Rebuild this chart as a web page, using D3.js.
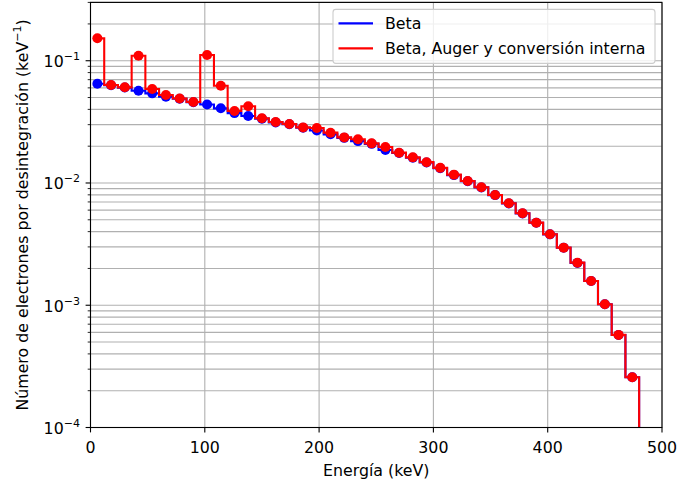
<!DOCTYPE html>
<html>
<head>
<meta charset="utf-8">
<script src="https://cdn.jsdelivr.net/npm/d3@7"></script>
<style>
  html, body { margin: 0; padding: 0; background: #fff; }
  svg { display: block; font-family: "DejaVu Sans", sans-serif; }
</style>
</head>
<body>
<svg id="chart" width="677" height="484"></svg>
<script>
// ---- data ----
const energies = [6, 18, 30, 42, 54, 66, 78, 90, 102, 114, 126, 138, 150, 162, 174, 186, 198, 210, 222, 234,
                  246, 258, 270, 282, 294, 306, 318, 330, 342, 354, 366, 378, 390, 402, 414, 426, 438, 450, 462, 474];
const betaValues = [0.0648, 0.0630, 0.0603, 0.0568, 0.0541, 0.0508, 0.0489, 0.0457, 0.0438, 0.0408,
                    0.0373, 0.0353, 0.0336, 0.0313, 0.0302, 0.0283, 0.0269, 0.0250, 0.0234, 0.0220,
                    0.0209, 0.0186, 0.0176, 0.0161, 0.0147, 0.0132, 0.0116, 0.01035, 0.00920, 0.00796,
                    0.00681, 0.00564, 0.00473, 0.00380, 0.00295, 0.00222, 0.00158, 0.00102, 0.000571, 0.000258];
const totalValues = [0.1525, 0.0633, 0.0606, 0.1099, 0.0587, 0.0524, 0.0491, 0.0460, 0.1113, 0.0625,
                     0.0388, 0.0424, 0.0338, 0.0315, 0.0304, 0.0285, 0.0282, 0.0258, 0.0236, 0.0228,
                     0.0211, 0.0197, 0.0177, 0.0162, 0.0148, 0.0133, 0.0117, 0.01038, 0.00922, 0.00798,
                     0.00682, 0.00565, 0.00474, 0.00381, 0.00296, 0.00223, 0.00158, 0.00102, 0.000572, 0.000258];
const xTickValues = [0, 100, 200, 300, 400, 500];
const yTickExponents = [-4, -3, -2, -1];
const seriesNames = ["Beta", "Beta, Auger y conversión interna"];
const seriesColors = ["#0000ff", "#ff0000"];
const xLabel = "Energía (keV)";
const yLabel = "Número de electrones por desintegración (keV";

// ---- layout ----
const svg = d3.select("#chart");
const L = 90.5, R = 662, T = 2.4, B = 427.5;
const x = d3.scaleLinear().domain([0, 500]).range([L, R]);
const y = d3.scaleLog().domain([1e-4, 0.3]).range([B, T]);
const fs = 15.8;
const gridColor = "#b0b0b0";

svg.append("defs").append("clipPath").attr("id", "plotclip")
  .append("rect").attr("x", L).attr("y", T).attr("width", R - L).attr("height", B - T);

// grid
const gGrid = svg.append("g");
const yGridTicks = y.ticks().filter(v => v >= 1e-4 && v <= 0.3 * 1.0001);
gGrid.selectAll("line.h").data(yGridTicks).enter().append("line")
  .attr("x1", L).attr("x2", R)
  .attr("y1", d => y(d)).attr("y2", d => y(d))
  .attr("stroke", gridColor).attr("stroke-width", 1.1);
gGrid.selectAll("line.v").data(xTickValues).enter().append("line")
  .attr("x1", d => x(d)).attr("x2", d => x(d))
  .attr("y1", T).attr("y2", B)
  .attr("stroke", gridColor).attr("stroke-width", 1.1);

// series
const datasets = [betaValues, totalValues].map(vals => energies.map((e, i) => [e, vals[i]]));
const line = d3.line().x(d => x(d[0])).y(d => y(d[1])).curve(d3.curveStep);
const gData = svg.append("g").attr("clip-path", "url(#plotclip)");
datasets.forEach((ds, si) => {
  const n = ds.length;
  const edge = ds[n - 1][0] + (ds[n - 1][0] - ds[n - 2][0]) / 2;
  const pts = ds.concat([[edge, ds[n - 1][1]], [edge, 1e-6]]);
  gData.append("path").attr("d", line(pts))
    .attr("fill", "none").attr("stroke", seriesColors[si]).attr("stroke-width", 2.1)
    .attr("stroke-linejoin", "miter");
  gData.selectAll("circle.s" + si).data(ds).enter().append("circle")
    .attr("cx", d => x(d[0])).attr("cy", d => y(d[1])).attr("r", 5)
    .attr("fill", seriesColors[si]);
});

// spines
svg.append("rect").attr("x", L).attr("y", T).attr("width", R - L).attr("height", B - T)
  .attr("fill", "none").attr("stroke", "#000").attr("stroke-width", 1.1);

// x ticks
const gx = svg.append("g");
xTickValues.forEach(v => {
  gx.append("line").attr("x1", x(v)).attr("x2", x(v)).attr("y1", B).attr("y2", B + 4.9)
    .attr("stroke", "#000").attr("stroke-width", 1.1);
  gx.append("text").attr("x", x(v)).attr("y", 452.5).attr("text-anchor", "middle")
    .attr("font-size", fs).attr("fill", "#000").text(v);
});

// y ticks
const gy = svg.append("g");
yGridTicks.forEach(v => {
  const isMajor = Math.abs(Math.log10(v) - Math.round(Math.log10(v))) < 1e-9;
  gy.append("line").attr("x1", L).attr("x2", L - (isMajor ? 4.9 : 2.8))
    .attr("y1", y(v)).attr("y2", y(v)).attr("stroke", "#000").attr("stroke-width", isMajor ? 1.1 : 0.85);
});
yTickExponents.forEach(ex => {
  const t = gy.append("text").attr("x", L - 10.5).attr("y", y(Math.pow(10, ex)) + 6.5)
    .attr("text-anchor", "end").attr("font-size", fs).attr("fill", "#000");
  t.append("tspan").text("10");
  t.append("tspan").attr("dy", -7).attr("font-size", fs * 0.7).text("\u2212" + Math.abs(ex));
});

// axis labels
svg.append("text").attr("x", (L + R) / 2).attr("y", 475.5).attr("text-anchor", "middle")
  .attr("font-size", fs).attr("fill", "#000").text(xLabel);
const yl = svg.append("text").attr("transform", `translate(28,${(T + B) / 2}) rotate(-90)`)
  .attr("text-anchor", "middle").attr("font-size", fs).attr("fill", "#000");
yl.append("tspan").text(yLabel);
yl.append("tspan").attr("dy", -7).attr("font-size", fs * 0.7).text("\u22121");
yl.append("tspan").attr("dy", 7).text(")");

// legend
const lg = svg.append("g");
const legW = 322, legX = R - 7 - legW, legY = T + 7, legH = 54;
lg.append("rect").attr("x", legX).attr("y", legY).attr("width", legW).attr("height", legH)
  .attr("rx", 2.8).attr("fill", "rgba(255,255,255,0.8)").attr("stroke", "#cccccc").attr("stroke-width", 1.1);
seriesNames.forEach((name, i) => {
  const cy = legY + 14 + i * 25;
  lg.append("line").attr("x1", legX + 5.5).attr("x2", legX + 40).attr("y1", cy).attr("y2", cy)
    .attr("stroke", seriesColors[i]).attr("stroke-width", 2.1);
  lg.append("text").attr("x", legX + 52).attr("y", cy + 5.5).attr("font-size", fs).attr("fill", "#000").text(name);
});
</script>
</body>
</html>
